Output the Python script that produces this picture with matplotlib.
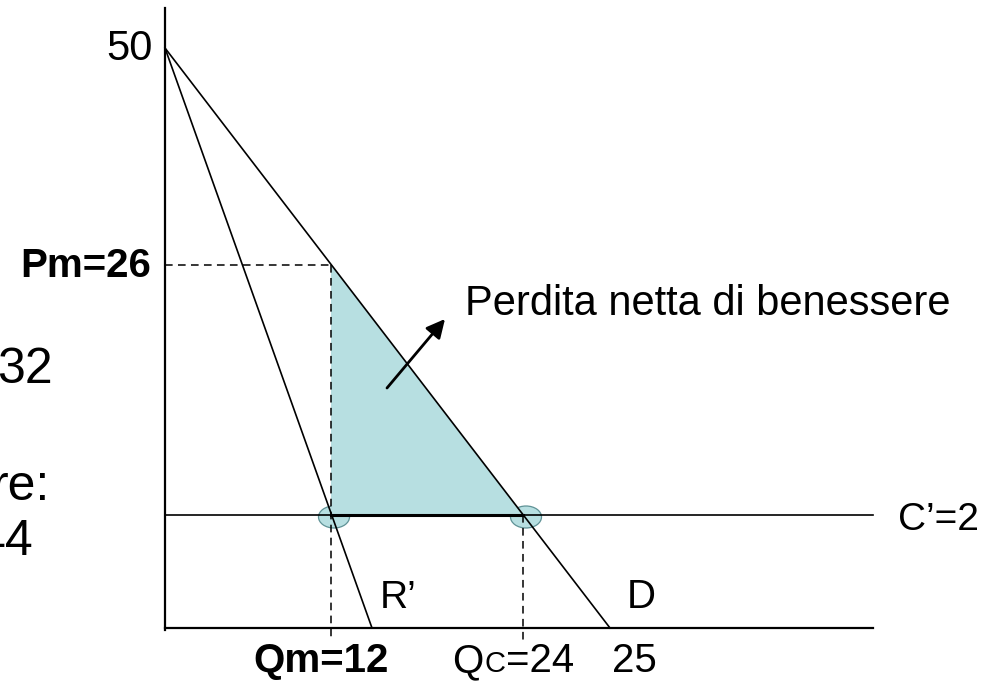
import numpy as np
import matplotlib
matplotlib.use("Agg")
import matplotlib.pyplot as plt
from matplotlib.patches import Polygon, Ellipse

# monopoly example: P = 50 - 2Q, R' = 50 - 4Q, C' = 2
p_max = 50
pm = 26
mc = 2
qm = 12
qr0 = 12.5   # where R' hits the Q axis
qc = 24
qd0 = 25     # where D hits the Q axis

# the drawing is a sketch, not to scale: economic value -> position on the slide
q_anchor = [0, qm, qr0, qc, qd0]
q_pos = [165, 331, 372, 523, 610]
p_anchor = [0, mc, pm, p_max]
p_pos = [628, 515, 265, 48]

def sx(q):
    return np.interp(q, q_anchor, q_pos)

def sy(p):
    return np.interp(p, p_anchor, p_pos)

font = "Liberation Sans"
plt.rcParams["font.family"] = [font, "DejaVu Sans"]

fig = plt.figure(figsize=(9.9, 6.81), dpi=100)
ax = fig.add_axes([0, 0, 1, 1])
ax.set_xlim(0, 990)
ax.set_ylim(681, 0)
ax.axis("off")

fill_col = "#b7dfe1"

# deadweight loss triangle
tri = Polygon([(sx(qm), sy(pm)), (sx(qm), sy(mc)), (sx(qc), sy(mc))],
              closed=True, facecolor=fill_col, edgecolor="none", zorder=1)
ax.add_patch(tri)

# small ellipses at the two points on C'
for q in [qm, qc]:
    e = Ellipse((sx(q) + 3, sy(mc) + 2), 31, 22, facecolor=fill_col,
                edgecolor="#5f9296", lw=0.9, zorder=0.5)
    ax.add_patch(e)

# axes
ax.plot([sx(0), sx(0)], [8, 630], color="black", lw=1.6, zorder=3)
ax.plot([sx(0), 873], [sy(0), sy(0)], color="black", lw=1.6, zorder=3)

# D and R'
ax.plot([sx(0), sx(qd0)], [sy(p_max), sy(0)], color="black", lw=1.2, zorder=3)
ax.plot([sx(0), sx(qr0)], [sy(p_max), sy(0)], color="black", lw=1.2, zorder=3)
# C'
ax.plot([sx(0), 873], [sy(mc), sy(mc)], color="black", lw=1.2, zorder=2)
ax.plot([sx(qm), sx(qc)], [sy(mc), sy(mc)], color="black", lw=2.2, zorder=3)

# dashed guides
dash = dict(color="black", lw=1.1, dashes=(5, 3.5), zorder=3)
ax.plot([sx(0), sx(qm)], [sy(pm), sy(pm)], **dash)
ax.plot([sx(qm), sx(qm)], [sy(pm), 637], **dash)
ax.plot([sx(qc), sx(qc)], [sy(mc), 640], **dash)

# arrow to the label
ax.annotate("", xy=(445, 319), xytext=(387, 388),
            arrowprops=dict(arrowstyle="-|>", color="black", lw=2,
                            mutation_scale=28, shrinkA=0, shrinkB=0))

# labels
ax.text(465, 315, "Perdita netta di benessere", fontsize=30, va="baseline")
ax.text(153, 60, str(p_max), fontsize=30, ha="right", va="baseline")
ax.text(151, 277, f"Pm={pm}", fontsize=29, fontweight="bold", ha="right", va="baseline")
ax.text(898, 530, f"C\u2019={mc}", fontsize=28, va="baseline")
ax.text(380, 608, "R\u2019", fontsize=28, va="baseline")
ax.text(627, 608, "D", fontsize=29, va="baseline")

base = 672
ax.text(253, base, f"Qm={qm}", fontsize=29, fontweight="bold", va="baseline")
ax.text(612, base, str(qd0), fontsize=29, va="baseline")

# Qc with a small capital C
fig.canvas.draw()
r = fig.canvas.get_renderer()
inv = ax.transData.inverted()
t1 = ax.text(452, base, "Q", fontsize=29, va="baseline")
x1 = inv.transform(t1.get_window_extent(r))[1][0]
t2 = ax.text(x1 + 1, base, "C", fontsize=21, va="baseline")
x2 = inv.transform(t2.get_window_extent(r))[1][0]
ax.text(x2 + 1, base, f"={qc}", fontsize=29, va="baseline")

# pieces of text cut by the left edge of the slide
ax.text(53, 383, "32", fontsize=36, ha="right", va="baseline")
ax.text(50, 500, "re:", fontsize=36, ha="right", va="baseline")
ax.text(34, 555, "44", fontsize=36, ha="right", va="baseline")

fig.savefig("out.png", dpi=100)
